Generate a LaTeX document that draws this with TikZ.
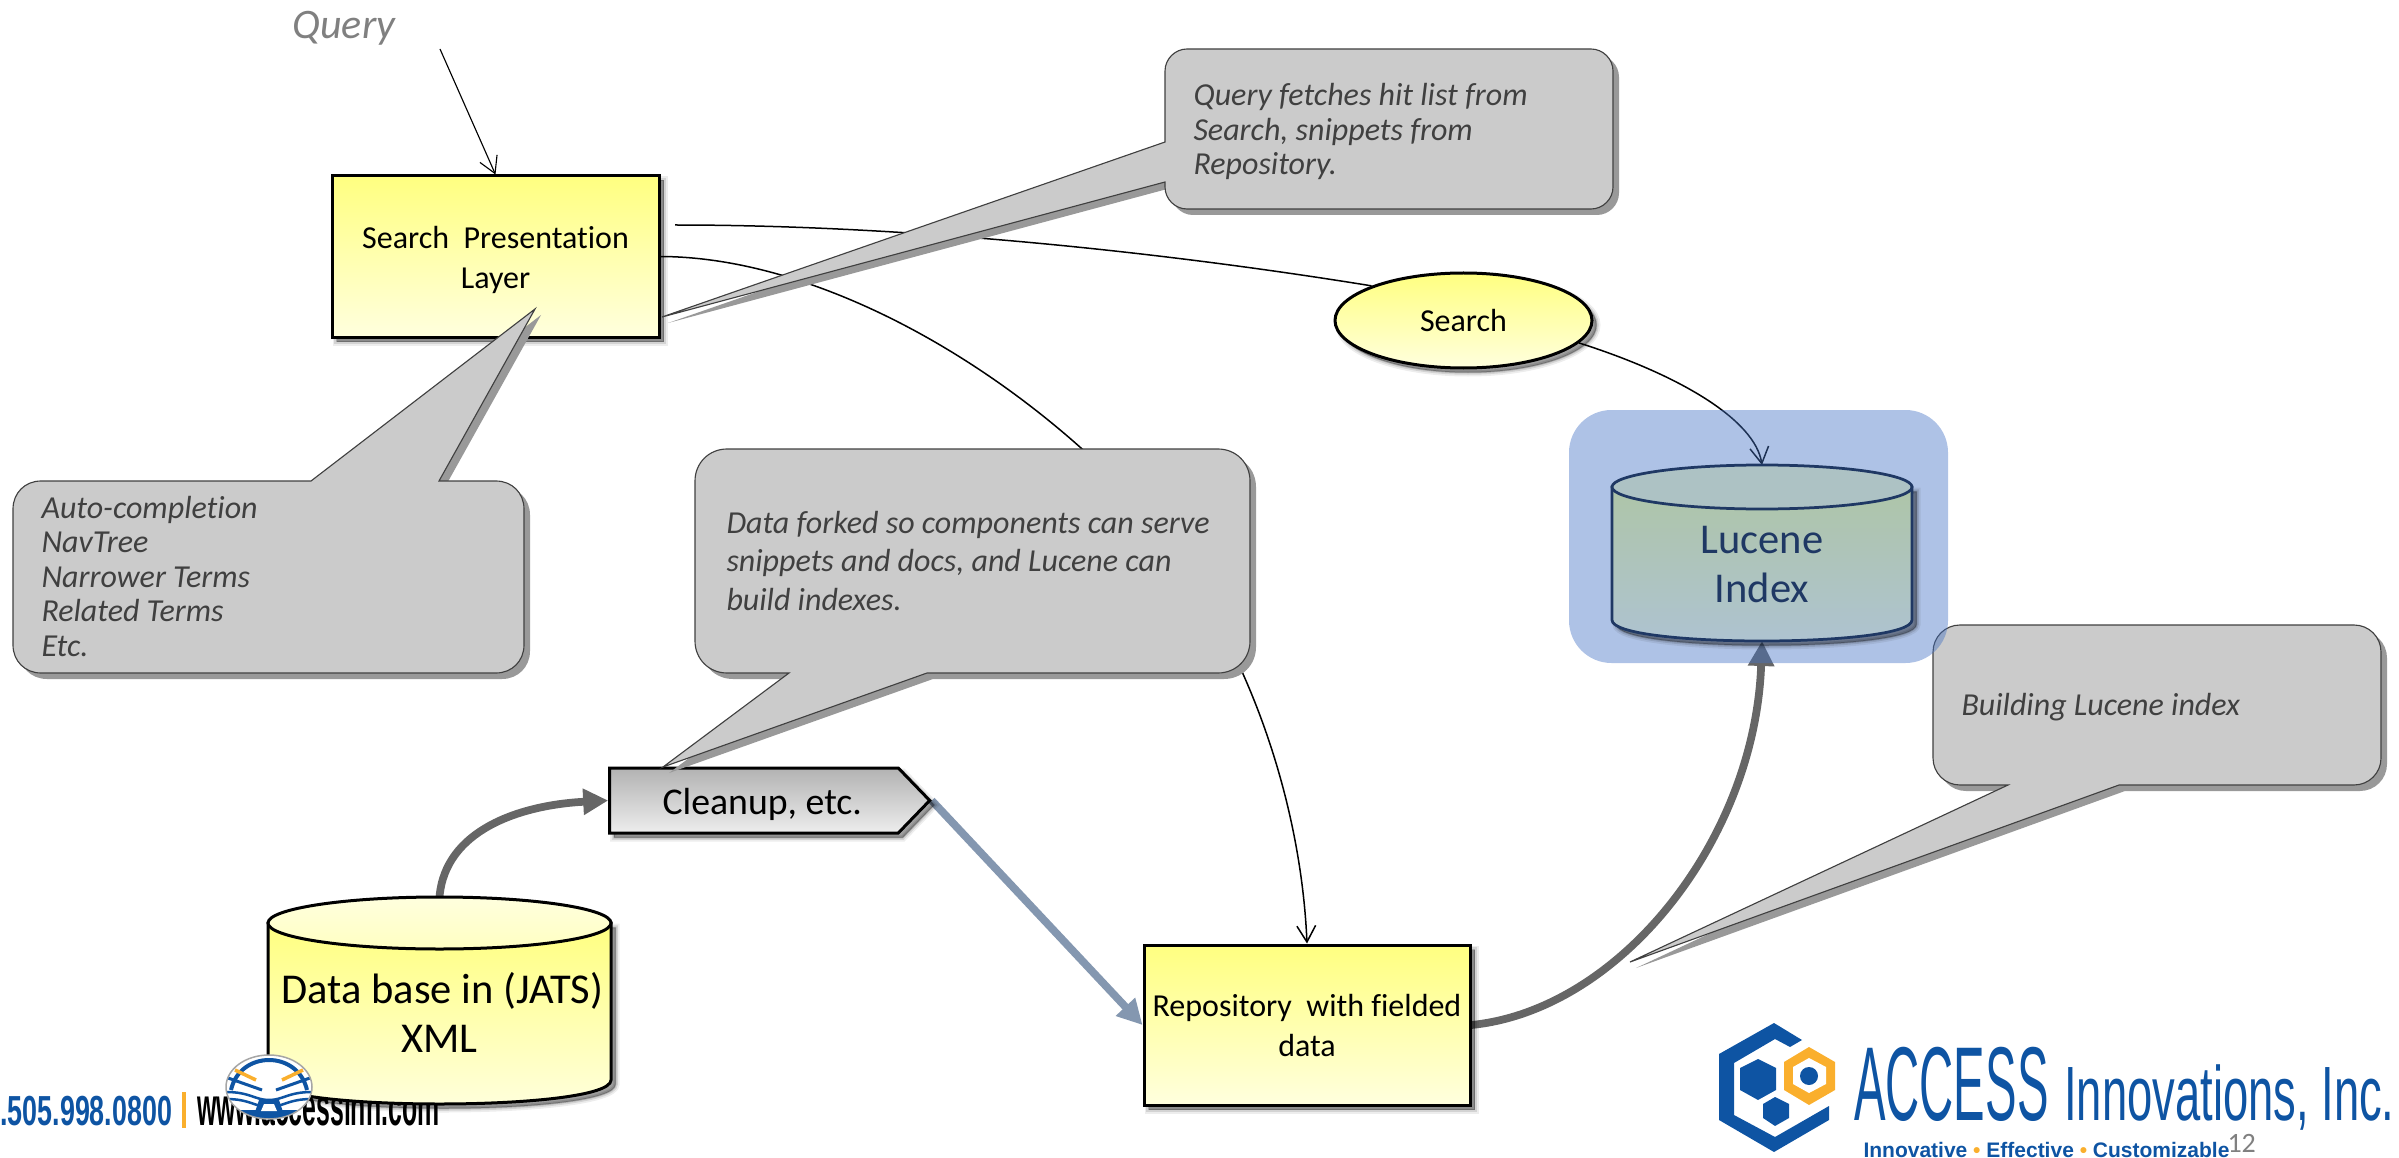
\documentclass[tikz,border=0pt]{standalone}
\usepackage{fontspec}
\setmainfont[Ligatures=NoCommon]{Carlito}
\newfontfamily\logofont{Liberation Sans}
\usetikzlibrary{arrows.meta,shapes.geometric,shapes.symbols,shadows}
\definecolor{yelTop}{RGB}{255,255,128}
\definecolor{yelBot}{RGB}{255,255,222}
\definecolor{calFill}{RGB}{203,203,203}
\definecolor{calShadow}{RGB}{153,153,153}
\definecolor{calEdge}{RGB}{64,64,64}
\definecolor{calText}{RGB}{64,64,64}
\definecolor{arrGrey}{RGB}{102,102,102}
\definecolor{arrSlate}{RGB}{132,151,176}
\definecolor{navy}{RGB}{31,56,100}
\definecolor{lucBlue}{RGB}{68,114,196}
\definecolor{lucTop}{RGB}{174,197,168}
\definecolor{lucBot}{RGB}{174,195,210}
\definecolor{lucCap}{RGB}{173,194,196}
\definecolor{logoBlue}{RGB}{14,84,163}
\definecolor{logoOrange}{RGB}{250,175,45}
\pgfdeclarelayer{conn}
\pgfsetlayers{conn,main}
\tikzset{
  softshadow/.style={
    general shadow={fill=black,draw=black,line width=3.2pt,opacity=.07,shadow xshift=1.8pt,shadow yshift=-1.8pt},
    general shadow={fill=black,draw=black,line width=1.8pt,opacity=.11,shadow xshift=1.8pt,shadow yshift=-1.8pt},
    general shadow={fill=black,draw=black,line width=.6pt,opacity=.2,shadow xshift=1.8pt,shadow yshift=-1.8pt}},
  yelbox/.style={rectangle,draw=black,line width=1.2pt,top color=yelTop,bottom color=yelBot,softshadow,
    align=center,inner sep=0pt,font=\fontsize{12.8}{16}\selectfont},
  callshape/.style={fill=calFill,draw=calEdge,line width=.45pt},
  callshadow/.style={fill=calShadow,shift={(6,6)}},
  calltext/.style={inner sep=0pt,align=left,anchor=base west,text=calText},
  thinline/.style={draw=black,line width=.6pt},
  barb/.style={-{Straight Barb[length=6.5pt,width=7.5pt]}},
  heavy/.style={line width=3.1pt,-{Triangle[length=10pt,width=10pt]}},
  logotext/.style={inner sep=0pt,anchor=base west,transform shape}
}
\def\calOne{(1165,182) -- (1165,187) .. controls (1165,199) and (1175,209) .. (1187,209) -- (1591,209) .. controls (1603,209) and (1613,199) .. (1613,187) -- (1613,71) .. controls (1613,59) and (1603,49) .. (1591,49) -- (1187,49) .. controls (1175,49) and (1165,59) .. (1165,71) -- (1165,142) -- (662,317) -- cycle}
\def\calTwo{(439,481) -- (496,481) .. controls (512,481) and (524,493) .. (524,509) -- (524,645) .. controls (524,661) and (512,673) .. (496,673) -- (41,673) .. controls (25,673) and (13,661) .. (13,645) -- (13,509) .. controls (13,493) and (25,481) .. (41,481) -- (311,481) -- (535,309) -- cycle}
\def\calThree{(927,673) -- (1218,673) .. controls (1236,673) and (1250,659) .. (1250,641) -- (1250,481) .. controls (1250,463) and (1236,449) .. (1218,449) -- (727,449) .. controls (709,449) and (695,463) .. (695,481) -- (695,641) .. controls (695,659) and (709,673) .. (727,673) -- (789,673) -- (663,767) -- cycle}
\def\calFour{(2119,785) -- (2354,785) .. controls (2369,785) and (2381,773) .. (2381,758) -- (2381,652) .. controls (2381,637) and (2369,625) .. (2354,625) -- (1960,625) .. controls (1945,625) and (1933,637) .. (1933,652) -- (1933,758) .. controls (1933,773) and (1945,785) .. (1960,785) -- (2008,785) -- (1630,962) -- cycle}
\begin{document}
\begin{tikzpicture}[x=.4pt,y=-.4pt]
\clip (0,0) rectangle (2399,1158);
% footer texts
\node[logotext,xscale=.64,text=logoBlue,font=\logofont\bfseries\fontsize{16.8}{18}\selectfont] (phone) at (0,1125) {.505.998.0800};
\fill[logoOrange] (182,1092) rectangle (186,1128);
\node[logotext,xscale=.46,text=black,font=\logofont\bfseries\fontsize{21.6}{24}\selectfont] (web) at (197,1125) {www.accessinn.com};
% query
\node[inner sep=0pt,anchor=base west,text=black!50,font=\fontsize{16.8}{18}\selectfont\itshape] (query) at (292,39) {Query};
\coordinate (qstart) at (440,49);
\coordinate (topstart) at (675,225);
% yellow nodes
\node[yelbox,minimum width=130.8pt,minimum height=64.4pt] (sp) at (495.5,256.5) {\rule{0pt}{11.5pt}Search\ \ Presentation\\Layer};
\node[yelbox,minimum width=130.4pt,minimum height=64pt] (repo) at (1307,1025) {Repository\ \ with fielded\\data};
\node[yelbox,ellipse,minimum width=102.8pt,minimum height=38pt] (search) at (1463.5,320.5) {Search};
\node[signal,signal to=east,signal from=nowhere,signal pointer angle=92,draw=black,line width=1.2pt,top color=black!30,bottom color=black!7,softshadow,
  minimum width=128pt,minimum height=26pt,inner sep=0pt,font=\fontsize{15.1}{17}\selectfont] (cleanup) at (754,800.5) {\rule{0pt}{13.5pt}\hspace*{6.6pt}Cleanup, etc.};
% data base cylinder
\path[draw=black,line width=1.2pt,top color=yelTop,bottom color=yelBot,softshadow] (268,923) -- (268,1080) .. controls (268,1112) and (611,1112) .. (611,1080) -- (611,923) -- cycle;
\node[ellipse,draw=black,line width=1.2pt,top color=yelBot,bottom color=yelBot!70!yelTop,minimum width=137.2pt,minimum height=20.8pt,inner sep=0pt] (dbcap) at (439.5,923) {};
\node[rectangle,minimum width=137.2pt,minimum height=82.8pt,inner sep=0pt,outer sep=0pt,align=center,font=\fontsize{17}{19.6}\selectfont] (dbase) at (439.5,1000.5) {\\[2pt]\hspace*{2.4pt}Data base in (JATS)\\XML};
% round emblem
\begin{scope}
\clip (269,1087) ellipse [x radius=17.2pt,y radius=12.8pt];
\fill[white] (226,1055) rectangle (312,1119);
\draw[logoBlue,line width=1.6pt] (231,1090) .. controls (240,1050) and (298,1050) .. (307,1090);
\draw[logoBlue,line width=1.2pt] (228,1078) -- (262,1090);
\draw[logoBlue,line width=1.2pt] (310,1078) -- (276,1090);
\draw[logoOrange,line width=1.4pt] (235,1070) -- (256,1080);
\draw[logoOrange,line width=1.4pt] (303,1070) -- (282,1080);
\draw[logoBlue,line width=1pt] (226,1092) .. controls (250,1092) and (255,1100) .. (269,1100) .. controls (283,1100) and (288,1092) .. (312,1092);
\draw[logoBlue,line width=1pt] (226,1099) .. controls (250,1099) and (255,1107) .. (269,1107) .. controls (283,1107) and (288,1099) .. (312,1099);
\fill[logoBlue] (226,1110) rectangle (312,1119);
\fill[logoBlue] (259,1100) -- (279,1100) -- (283,1112) -- (255,1112) -- cycle;
\fill[white] (264,1104) -- (274,1104) -- (277,1111) -- (261,1111) -- cycle;
\end{scope}
\draw[black!35,line width=.6pt] (269,1087) ellipse [x radius=17.2pt,y radius=12.8pt];
% company logo
\fill[logoBlue] (1802,1040) -- (1774,1023) -- (1719,1054) -- (1719,1120) -- (1774,1152) -- (1829,1120) -- (1829,1106) -- (1775,1137) -- (1734,1115) -- (1734,1063) -- (1775,1039) -- (1790,1047) -- cycle;
\fill[logoBlue] (1758,1059) -- (1776,1068) -- (1776,1090) -- (1758,1100) -- (1740,1090) -- (1740,1068) -- cycle;
\fill[logoBlue] (1775,1097) -- (1789,1104) -- (1789,1118) -- (1775,1126) -- (1763,1118) -- (1763,1104) -- cycle;
\fill[logoOrange] (1809,1047) -- (1835,1062) -- (1835,1090) -- (1809,1105) -- (1784,1090) -- (1784,1062) -- cycle;
\fill[white] (1809,1058) -- (1826,1067) -- (1826,1084) -- (1809,1093) -- (1793,1084) -- (1793,1067) -- cycle;
\fill[logoBlue] (1809,1076) circle [radius=3.6pt];
\node[logotext,xscale=.45,text=logoBlue,font=\logofont\fontsize{42}{44}\selectfont] (access) at (1854,1120) {ACCESS};
\node[logotext,xscale=.589,text=logoBlue,font=\logofont\fontsize{30.8}{33}\selectfont] (innov) at (2064,1120) {Innovations, Inc.};
\node[inner sep=0pt,anchor=base west,text=logoBlue,font=\logofont\bfseries\fontsize{8.4}{10}\selectfont] (tag) at (1863,1157) {Innovative \textcolor{logoOrange}{•} Effective \textcolor{logoOrange}{•} Customizable};
\node[inner sep=0pt,anchor=base west,text=black!50,font=\fontsize{11.2}{13}\selectfont] (pagenum) at (2227,1152) {12};
% callouts
\path[callshadow] \calOne;
\path[callshape] \calOne;
\node[calltext,font=\fontsize{12.8}{13.9}\selectfont\itshape] (c1) at (1193,175) {Query fetches hit list from\\Search, snippets from\\Repository.};
\path[callshadow] \calTwo;
\path[callshape] \calTwo;
\node[calltext,font=\fontsize{12.8}{13.8}\selectfont\itshape] (c2) at (41,656) {Auto-completion\\NavTree\\Narrower Terms\\Related Terms\\Etc.};
\path[callshadow] \calThree;
\path[callshape] \calThree;
\node[calltext,font=\fontsize{12.8}{15.4}\selectfont\itshape] (c3) at (726,610) {Data forked so components can serve\\snippets and docs, and Lucene can\\build indexes.};
\path[callshadow] \calFour;
\path[callshape] \calFour;
\node[calltext,font=\fontsize{12.8}{13.8}\selectfont\itshape] (c4) at (1961,715) {Building Lucene index};
% Lucene group
\fill[lucBlue,fill opacity=.43,rounded corners=17pt] (1569,410) rectangle (1948,663);
\path[draw=navy,line width=1.1pt,top color=lucTop,bottom color=lucBot,softshadow] (1612,487) -- (1612,620) .. controls (1612,648) and (1912,648) .. (1912,620) -- (1912,487) -- cycle;
\node[ellipse,draw=navy,line width=1.1pt,fill=lucCap,minimum width=120pt,minimum height=17.6pt,inner sep=0pt] (luccap) at (1762,487) {};
\node[rectangle,minimum width=120pt,minimum height=70.4pt,inner sep=0pt,outer sep=0pt,align=center,text=navy,font=\fontsize{17}{19.6}\selectfont] (lucene) at (1762,553) {\\[.8pt]Lucene\\Index};
% connectors
\begin{pgfonlayer}{conn}
\draw[thinline,barb,line width=.45pt] (qstart) -- (sp.north);
\draw[thinline] (topstart) .. controls (900,225) and (1150,250) .. (search.north west);
\draw[thinline,barb] (search.-11) .. controls (1680,375) and (1755,420) .. (lucene.north);
\draw[thinline,barb] (sp.east) .. controls (800,257) and (960,340) .. (1081,448) .. controls (1230,580) and (1300,780) .. (repo.north);
\draw[heavy,draw=arrGrey] (dbase.north) .. controls (445,830) and (520,805) .. (cleanup.west);
\draw[heavy,draw=arrSlate] (cleanup.east) -- (repo.west);
\draw[heavy,draw=arrGrey] (repo.east) .. controls (1620,1010) and (1755,840) .. (lucene.south);
\end{pgfonlayer}
\end{tikzpicture}
\end{document}
